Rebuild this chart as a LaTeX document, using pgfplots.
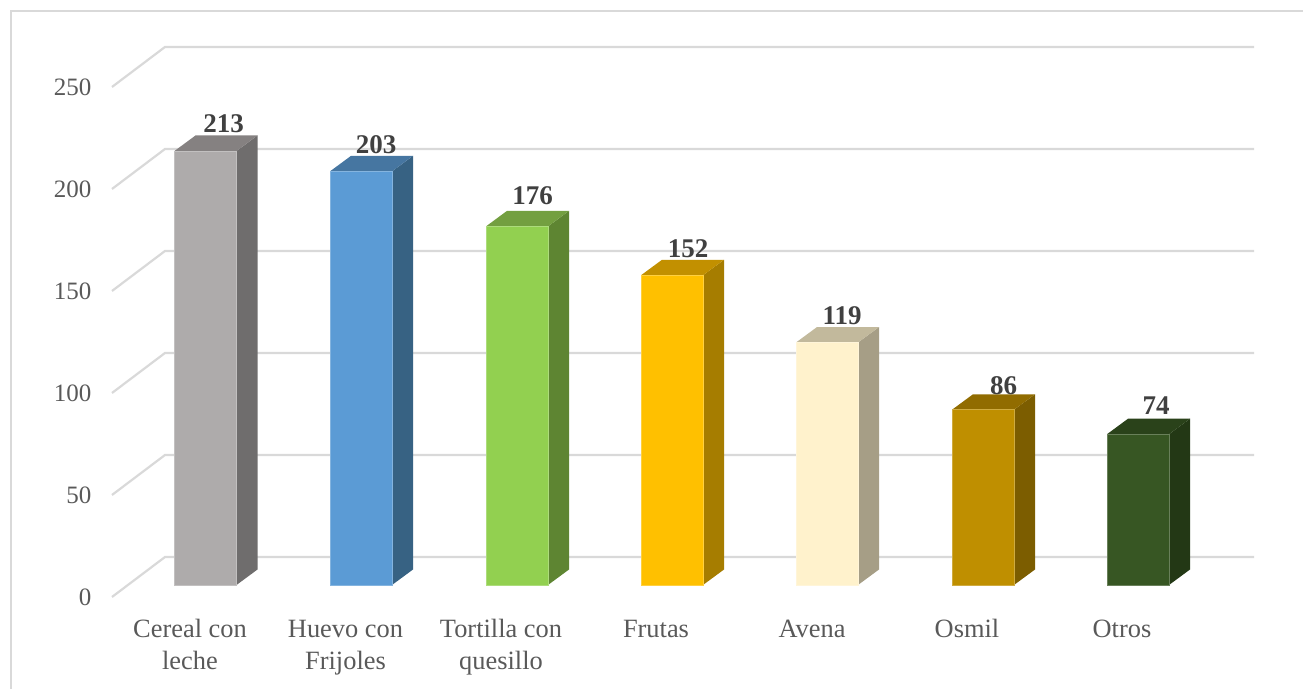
\documentclass[border=0pt]{standalone}
\usepackage{pgfplots}
\pgfplotsset{compat=1.18}
\usepackage{fontspec}
\setmainfont{Liberation Serif}
\definecolor{gridc}{HTML}{D9D9D9}
\definecolor{txt}{HTML}{595959}
\definecolor{lab}{HTML}{404040}
\definecolor{f1}{HTML}{AEABAB}\definecolor{s1}{HTML}{6F6D6D}\definecolor{t1}{HTML}{858181}
\definecolor{f2}{HTML}{5B9BD5}\definecolor{s2}{HTML}{376283}\definecolor{t2}{HTML}{4676A1}
\definecolor{f3}{HTML}{92D050}\definecolor{s3}{HTML}{5E8532}\definecolor{t3}{HTML}{739F40}
\definecolor{f4}{HTML}{FFC000}\definecolor{s4}{HTML}{A67D00}\definecolor{t4}{HTML}{C29000}
\definecolor{f5}{HTML}{FFF2CC}\definecolor{s5}{HTML}{A69E86}\definecolor{t5}{HTML}{C2B99C}
\definecolor{f6}{HTML}{BF8F00}\definecolor{s6}{HTML}{7C5D00}\definecolor{t6}{HTML}{916C00}
\definecolor{f7}{HTML}{375623}\definecolor{s7}{HTML}{233815}\definecolor{t7}{HTML}{2A421A}
\pgfplotsset{
  valbar/.style n args={3}{ybar, bar width=62, bar shift=0pt, fill=#1, draw=#1!75!white, line width=0.7pt,
    nodes near coords,
    every node near coord/.append style={anchor=base, xshift=#2, yshift=#3,
      font=\fontsize{27}{30}\selectfont\bfseries, text=lab, inner sep=0pt}},
  face/.style={fill=#1, draw=none},
  gl/.style={draw=gridc, line width=2.2pt},
}
\begin{document}
\begin{tikzpicture}
\begin{axis}[
  scale only axis, width=1303pt, height=689pt,
  xmin=0, xmax=1303, ymin=-51.04, ymax=287.1,
  axis line style={draw=none}, tick style={draw=none},
  no markers,
  /pgf/number format/assume math mode=true,
  ytick={-5.89,44.17,94.23,144.29,194.35,244.41},
  yticklabels={0,50,100,150,200,250},
  yticklabel style={font=\fontsize{25}{30}\selectfont, text=txt, anchor=east, xshift=95pt},
  xtick={190,345.5,501,656,812,967,1122},
  xticklabels={{\vphantom{l}Cereal con\\leche},{\vphantom{l}Huevo con\\Frijoles},{\vphantom{l}Tortilla con\\quesillo},{\vphantom{l}Frutas},{\vphantom{l}Avena},{\vphantom{l}Osmil},{\vphantom{l}Otros}},
  xticklabel style={font=\fontsize{26.4}{31.5}\selectfont, text=txt, align=center, anchor=north, yshift=73pt},
]
% chart frame
\addplot[draw=gridc, line width=1.8pt] coordinates {(11,-51.04) (11,281.7) (1303,281.7)};
% walls and gridlines
\addplot[gl] coordinates {(112,-5.89) (165,13.74) (1254,13.74)};
\addplot[gl] coordinates {(112,44.17) (165,63.80) (1254,63.80)};
\addplot[gl] coordinates {(112,94.23) (165,113.86) (1254,113.86)};
\addplot[gl] coordinates {(112,144.29) (165,163.92) (1254,163.92)};
\addplot[gl] coordinates {(112,194.35) (165,213.98) (1254,213.98)};
\addplot[gl] coordinates {(112,244.41) (165,264.04) (1254,264.04)};
% 1 Cereal con leche
\addplot[face=s1] coordinates {(236.5,0) (257.5,7.6) (257.5,220.6) (236.5,213)} -- cycle;
\addplot[face=t1] coordinates {(174.5,213) (195.5,220.6) (257.5,220.6) (236.5,213)} -- cycle;
\addplot[valbar={f1}{18pt}{18pt}] coordinates {(205.5,213)};
% 2 Huevo con Frijoles
\addplot[face=s2] coordinates {(392,0) (413,7.6) (413,210.6) (392,203)} -- cycle;
\addplot[face=t2] coordinates {(330,203) (351,210.6) (413,210.6) (392,203)} -- cycle;
\addplot[valbar={f2}{15pt}{18pt}] coordinates {(361,203)};
% 3 Tortilla con quesillo
\addplot[face=s3] coordinates {(548,0) (569,7.6) (569,183.6) (548,176)} -- cycle;
\addplot[face=t3] coordinates {(486,176) (507,183.6) (569,183.6) (548,176)} -- cycle;
\addplot[valbar={f3}{15.5pt}{22pt}] coordinates {(517,176)};
% 4 Frutas
\addplot[face=s4] coordinates {(703,0) (724,7.6) (724,159.6) (703,152)} -- cycle;
\addplot[face=t4] coordinates {(641,152) (662,159.6) (724,159.6) (703,152)} -- cycle;
\addplot[valbar={f4}{16pt}{18pt}] coordinates {(672,152)};
% 5 Avena
\addplot[face=s5] coordinates {(858,0) (879,7.6) (879,126.6) (858,119)} -- cycle;
\addplot[face=t5] coordinates {(796,119) (817,126.6) (879,126.6) (858,119)} -- cycle;
\addplot[valbar={f5}{15pt}{18pt}] coordinates {(827,119)};
% 6 Osmil
\addplot[face=s6] coordinates {(1014,0) (1035,7.6) (1035,93.6) (1014,86)} -- cycle;
\addplot[face=t6] coordinates {(952,86) (973,93.6) (1035,93.6) (1014,86)} -- cycle;
\addplot[valbar={f6}{20.5pt}{15pt}] coordinates {(983,86)};
% 7 Otros
\addplot[face=s7] coordinates {(1169,0) (1190,7.6) (1190,81.6) (1169,74)} -- cycle;
\addplot[face=t7] coordinates {(1107,74) (1128,81.6) (1190,81.6) (1169,74)} -- cycle;
\addplot[valbar={f7}{18pt}{20pt}] coordinates {(1138,74)};
\end{axis}
\end{tikzpicture}
\end{document}
